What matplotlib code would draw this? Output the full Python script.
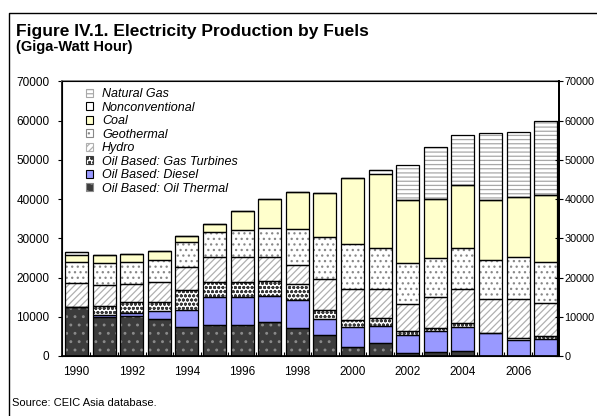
import matplotlib
matplotlib.use("Agg")
import matplotlib.pyplot as plt
from matplotlib.lines import Line2D
from matplotlib.patches import Patch
import numpy as np

plt.rcParams["font.family"] = ["Liberation Sans", "DejaVu Sans"]
plt.rcParams["hatch.linewidth"] = 0.9

# values in GWh
years = list(range(1990, 2008))
oil_thermal = [12600, 10000, 10200, 9540, 7490, 7820, 8000, 8670, 7050,
               5260, 2360, 3280, 820, 1080, 1230, 100, 0, 0]
diesel = [0, 560, 880, 1960, 4360, 7100, 6920, 6660, 7180,
          4280, 5130, 4360, 4440, 5380, 6260, 5850, 4050, 4310]
gas_turbines = [0, 2210, 2720, 2300, 5020, 4000, 4000, 3690, 4100,
                2210, 1610, 2050, 1100, 670, 840, 0, 620, 770]
hydro = [5900, 5230, 4530, 4970, 5830, 6340, 6340, 6240, 4960,
         7780, 7870, 7280, 7020, 7790, 8800, 8540, 9820, 8560]
geothermal = [5400, 5700, 5570, 5790, 6480, 6330, 6840, 7340, 9060,
              10850, 11620, 10520, 10260, 10000, 10360, 9920, 10690, 10260]
coal = [1950, 2070, 2050, 2240, 1380, 2130, 4870, 7350, 9400,
        11200, 16920, 18870, 16230, 15130, 16230, 15380, 15380, 17070]
nonconventional = [600, 0, 0, 0, 0, 0, 0, 0, 0,
                   0, 0, 1030, 0, 0, 0, 0, 0, 0]
natural_gas = [0, 0, 0, 0, 0, 0, 0, 0, 0,
               0, 0, 0, 8800, 13230, 12560, 17180, 16670, 19080]

# bottom to top: (label, values, face, hatch, hatch colour)
series = [
    ("Oil Based: Oil Thermal", oil_thermal, "#3c3c3c", "..", "#8a8a8a"),
    ("Oil Based: Diesel", diesel, "#9999ff", "", "#9999ff"),
    ("Oil Based: Gas Turbines", gas_turbines, "white", "oooo", "#3a3a3a"),
    ("Hydro", hydro, "white", "/////", "#b0b0b0"),
    ("Geothermal", geothermal, "white", "...", "#888888"),
    ("Coal", coal, "#ffffcc", "", "#ffffcc"),
    ("Nonconventional", nonconventional, "white", "", "white"),
    ("Natural Gas", natural_gas, "white", "----", "#a8a8a8"),
]

fig = plt.figure(figsize=(5.97, 4.16), dpi=100)
ax = fig.add_axes([62 / 597, 60 / 416, 497 / 597, 274.5 / 416])

x = np.array(years)
bottom = np.zeros(len(years))
handles = []
for label, vals, face, hatch, hcol in series:
    vals = np.array(vals, dtype=float)
    ax.bar(x, vals, 0.83, bottom=bottom, color=face, edgecolor=hcol,
           hatch=hatch, linewidth=0, zorder=2)
    ax.bar(x, vals, 0.83, bottom=bottom, fill=False, edgecolor="black",
           linewidth=0.9, zorder=3)
    bottom += vals
    handles.append(Patch(facecolor=face, edgecolor=hcol if hatch else "black",
                         hatch=hatch, linewidth=0.8, label=label))

ax.set_xlim(1989.475, 2007.48)
ax.set_ylim(0, 70000)
ax.set_yticks(range(0, 70001, 10000))
ax.set_xticks(range(1990, 2007, 2))
ax.set_xticks(np.arange(1990.5, 2007, 1), minor=True)
ax.tick_params(axis="x", which="major", length=0, pad=7, labelsize=8.5)
ax.tick_params(axis="x", which="minor", direction="in", length=3, width=0.8)
ax.tick_params(axis="y", direction="out", length=3, width=0.8, labelsize=8.5, pad=6)
for sp in ["left", "right", "bottom"]:
    ax.spines[sp].set_linewidth(1.2)
ax.spines["top"].set_color("#777777")
ax.spines["top"].set_linewidth(1.2)

ax2 = ax.twinx()
ax2.set_ylim(0, 70000)
ax2.set_yticks(range(0, 70001, 10000))
ax2.tick_params(axis="y", direction="inout", length=6, width=0.8, labelsize=7.8, pad=1)
ax2.spines["right"].set_linewidth(1.4)

leg = ax.legend(handles=handles[::-1], loc="upper left",
                bbox_to_anchor=(0.048, 0.975), frameon=False, fontsize=9,
                handlelength=0.6, handleheight=0.6, handletextpad=0.7,
                labelspacing=0.12, borderpad=0, borderaxespad=0)
for t in leg.get_texts():
    t.set_fontstyle("italic")

fig.text(16 / 597, 1 - 36 / 416, "Figure IV.1. Electricity Production by Fuels",
         fontsize=12.5, fontweight="bold", va="baseline")
fig.text(16 / 597, 1 - 51.5 / 416, "(Giga-Watt Hour)",
         fontsize=10.5, fontweight="bold", va="baseline")
fig.text(12 / 597, 1 - 406 / 416, "Source: CEIC Asia database.",
         fontsize=8, va="baseline")

# outer frame (left and top edges visible)
fig.add_artist(Line2D([9 / 597, 9 / 597, 1], [0, 1 - 13 / 416, 1 - 13 / 416],
                      transform=fig.transFigure, color="black", linewidth=1.0))

fig.savefig("out.png", dpi=100)
